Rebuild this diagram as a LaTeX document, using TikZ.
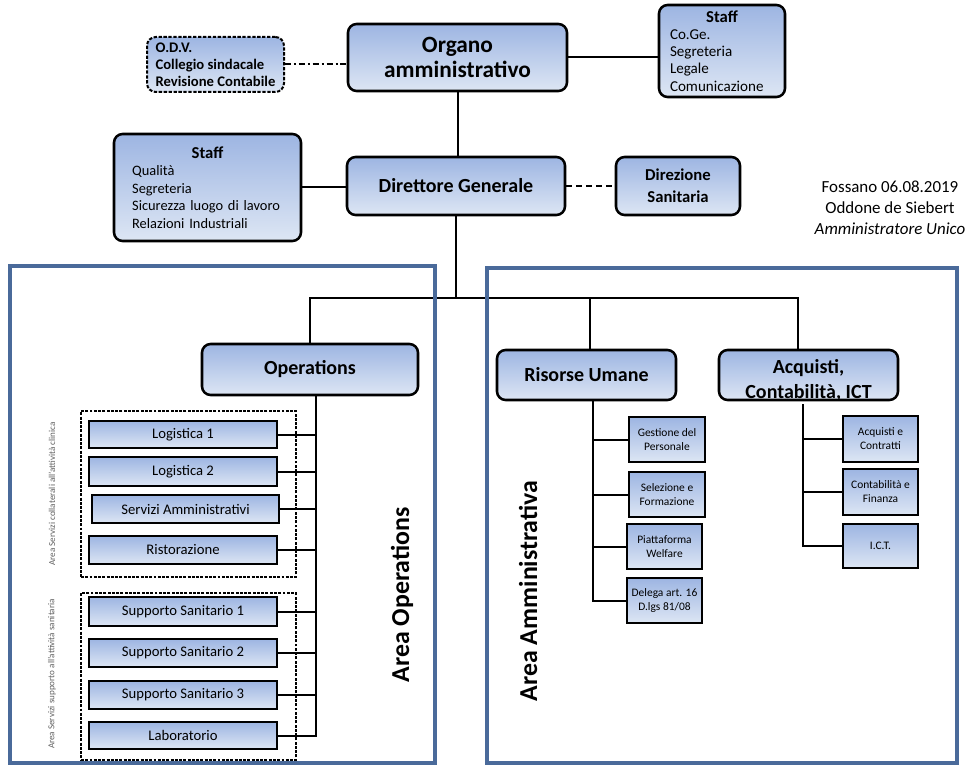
\documentclass[tikz,border=0pt]{standalone}
\usepackage{fontspec}
\setmainfont{Carlito}
\definecolor{gtop}{HTML}{9DB5E2}
\definecolor{gbot}{HTML}{DDE6F4}
\definecolor{areablue}{HTML}{4A6A9A}
\definecolor{lblgray}{HTML}{606060}
\tikzset{
  sz/.style 2 args={minimum width=#1*0.75pt, minimum height=#2*0.75pt},
  mainbox/.style={draw=black, line width=1.9pt, rounded corners=6.5pt, top color=gtop, bottom color=gbot, inner sep=0pt, align=center},
  subbox/.style={draw=black, line width=1.8pt, top color=gtop, bottom color=gbot, inner sep=0pt, align=center, font=\fontsize{11}{13}\selectfont},
  smallbox/.style={draw=black, line width=1.8pt, top color=gtop, bottom color=gbot, inner sep=0pt, align=center, font=\fontsize{8.6}{10.5}\selectfont},
  conn/.style={line width=1.5pt},
  busline/.style={line width=1.1pt},
  grpbox/.style={draw=black, line width=1.2pt, dash pattern=on 2.2pt off 1pt, inner sep=0pt},
  areabox/.style={draw=areablue, line width=2.3pt, inner sep=0pt},
}
\begin{document}
\begin{tikzpicture}[x=0.75pt,y=-0.75pt]
\useasboundingbox (0,0) rectangle (976,767);

% top level
\node[mainbox, sz={137}{55}, dash pattern=on 2.5pt off 1.2pt, line width=1.5pt, align=left, font=\bfseries\fontsize{11}{12.75}\selectfont] (odv) at (215.5,64.5) {O.D.V.\\Collegio sindacale\\Revisione Contabile};
\node[mainbox, sz={219}{67}, font=\bfseries\fontsize{17.5}{18.75}\selectfont] (organo) at (457.5,57.5) {Organo\\amministrativo};
\node[mainbox, sz={126}{92}, align=left, text width=78pt, font={\hyphenpenalty=10000\relax\fontsize{11.3}{12.9}\selectfont}] (staffR) at (722,51) {\makebox[\hsize]{\bfseries\fontsize{12.5}{12.9}\selectfont Staff}\\Co.Ge.\\Segreteria\\Legale\\Comunicazione};

\node[mainbox, sz={187}{107}, align=left, text width=113pt, font={\hyphenpenalty=10000\relax\fontsize{10.8}{13.1}\selectfont}] (staffL) at (207.5,187.5) {\makebox[\hsize]{\bfseries\fontsize{12.5}{13.1}\selectfont Staff}\\Qualità\\Segreteria\\Sicurezza luogo di lavoro\\Relazioni Industriali};
\node[mainbox, sz={218}{58}, font=\bfseries\fontsize{15}{18}\selectfont] (dg) at (456,186) {Direttore Generale};
\node[mainbox, sz={124}{58}, font=\bfseries\fontsize{12.5}{16.5}\selectfont] (dirsan) at (678,186) {Direzione\\Sanitaria};

\node[align=center, inner sep=0pt, font=\fontsize{12.7}{15.75}\selectfont] (fossano) at (890,208) {Fossano 06.08.2019\\Oddone de Siebert\\\textit{Amministratore Unico}};

% second level
\node[mainbox, sz={216}{51}, font=\bfseries\fontsize{15}{18}\selectfont] (ops) at (310,369.5) {Operations};
\node[mainbox, sz={179}{50}, font=\bfseries\fontsize{15}{18}\selectfont] (ru) at (586.5,375) {Risorse Umane};
\node[mainbox, sz={179}{50}] (acq) at (808.5,375) {};
\node[inner sep=0pt, align=center, font=\bfseries\fontsize{15}{18.75}\selectfont] (acqt) at (808.5,380) {Acquisti,\\Contabilità, ICT};

% operations groups
\node[grpbox, sz={215}{166}] (grp1) at (188.5,494) {};
\node[grpbox, sz={215}{167}] (grp2) at (188.5,676.5) {};
\node[subbox, sz={188}{27}] (log1) at (183,434.5) {Logistica 1};
\node[subbox, sz={188}{29}] (log2) at (183,471.5) {Logistica 2};
\node[subbox, sz={187}{28}] (servamm) at (185.5,509) {Servizi Amministrativi};
\node[subbox, sz={188}{28}] (rist) at (183,550) {Ristorazione};
\node[subbox, sz={188}{29}] (ss1) at (183,611.5) {Supporto Sanitario 1};
\node[subbox, sz={188}{28}] (ss2) at (183,653) {Supporto Sanitario 2};
\node[subbox, sz={188}{28}] (ss3) at (183,695) {Supporto Sanitario 3};
\node[subbox, sz={188}{27}] (lab) at (183,735.5) {Laboratorio};

\node[rotate=90, inner sep=0pt, text=lblgray, font=\fontsize{6.8}{7}\selectfont] (lblA) at (52,494) {Area Servizi collaterali all'attività clinica};
\node[rotate=90, inner sep=0pt, text=lblgray, font=\fontsize{6.8}{7}\selectfont] (lblB) at (52,674) {Area Servizi supporto all'attività sanitaria};
\node[rotate=90, inner sep=0pt, font=\bfseries\fontsize{19.4}{20}\selectfont] (lblOps) at (402,595) {Area Operations};
\node[rotate=90, inner sep=0pt, font=\bfseries\fontsize{19.4}{20}\selectfont] (lblAmm) at (528,591) {Area Amministrativa};

% right sub boxes
\node[smallbox, sz={76}{45}] (gp) at (667,439.5) {Gestione del\\Personale};
\node[smallbox, sz={76}{45}] (sf) at (667,494.5) {Selezione e\\Formazione};
\node[smallbox, sz={75}{45}] (pw) at (664.5,546.5) {Piattaforma\\Welfare};
\node[smallbox, sz={75}{45}] (dl) at (664.5,600.5) {Delega art. 16\\D.lgs 81/08};
\node[smallbox, sz={75}{46}] (ac) at (880.5,439) {Acquisti e\\Contratti};
\node[smallbox, sz={75}{46}] (cf) at (880.5,492) {Contabilità e\\Finanza};
\node[smallbox, sz={75}{44}] (ict) at (880.5,546) {I.C.T.};

% coordinates
\coordinate (busL) at (310,298);
\coordinate (busR) at (798,298);
\coordinate (ruTop) at (590,298);
\coordinate (opsv) at (316,0);
\coordinate (ruv) at (593,0);
\coordinate (acqv) at (803,0);

% connectors
\draw[conn] (organo.south) -- (organo.south |- dg.north);
\draw[conn] (organo.east) -- (organo.east -| staffR.west);
\draw[conn, dash pattern=on 4.5pt off 2.2pt on 1.5pt off 2.2pt] (odv.east) -- (odv.east -| organo.west);
\draw[conn] (staffL.east) -- (staffL.east -| dg.west);
\draw[conn, dash pattern=on 4.5pt off 3pt] (dg.east) -- (dirsan.west);
\draw[conn] (dg.south) -- (dg.south |- busL);
\draw[busline] (busL |- ops.north) -- (busL) -- (busR) -- (busR |- acq.north);
\draw[busline] (ruTop) -- (ruTop |- ru.north);

\draw[conn] (ops.south -| opsv) -- (lab.east -| opsv) -- (lab.east);
\foreach \n in {log1,log2,servamm,rist,ss1,ss2,ss3}
  \draw[conn] (\n.east) -- (\n.east -| opsv);

\draw[conn] (ru.south -| ruv) -- (dl.west -| ruv) -- (dl.west);
\foreach \n in {gp,sf,pw}
  \draw[conn] (\n.west -| ruv) -- (\n.west);

\draw[conn] ([yshift=-3*0.75pt]acq.south -| acqv) -- (ict.west -| acqv) -- (ict.west);
\foreach \n in {ac,cf}
  \draw[conn] (\n.west -| acqv) -- (\n.west);

% area frames
\node[areabox, sz={425}{497}] (areaOps) at (222.5,514.5) {};
\node[areabox, sz={470}{495}] (areaAmm) at (722,515.5) {};
\end{tikzpicture}
\end{document}
